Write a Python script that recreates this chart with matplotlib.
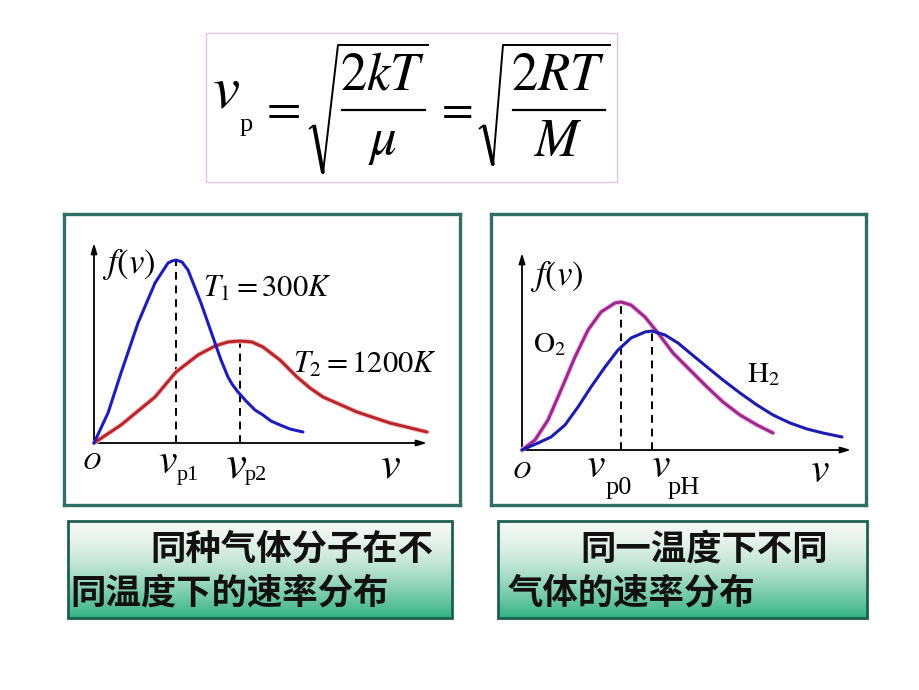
import matplotlib
matplotlib.use("Agg")
import matplotlib.pyplot as plt
import matplotlib.patheffects as pe
from matplotlib.patches import Rectangle
import numpy as np

plt.rcParams["mathtext.fontset"] = "stix"
plt.rcParams["font.family"] = ["Liberation Serif", "DejaVu Serif"]

# left panel: same gas at two temperatures (arbitrary units)
v_t1 = [0, 0.14, 0.27, 0.44, 0.61, 0.74, 0.78, 0.82, 0.88, 0.94, 1.07, 1.21, 1.27, 1.34,
        1.38, 1.44, 1.52, 1.61, 1.69, 1.77, 1.86, 1.96, 2.09]
f_t1 = [0, 0.30, 0.70, 1.20, 1.60, 1.80, 1.82, 1.83, 1.81, 1.73, 1.40, 1.00, 0.83, 0.66,
        0.59, 0.51, 0.42, 0.33, 0.28, 0.22, 0.18, 0.14, 0.11]
v_t2 = [0, 0.27, 0.61, 0.82, 1.04, 1.21, 1.34, 1.46, 1.58, 1.69, 1.86, 2.03, 2.16, 2.29,
        2.63, 2.96, 3.33]
f_t2 = [0, 0.18, 0.46, 0.71, 0.88, 0.97, 1.01, 1.02, 1.01, 0.96, 0.83, 0.66, 0.55, 0.46,
        0.31, 0.20, 0.11]

# right panel: O2 and H2 at one temperature
v_o2 = [0, 0.13, 0.26, 0.39, 0.53, 0.66, 0.79, 0.93, 0.99, 1.09, 1.23, 1.36, 1.51, 1.68,
        1.85, 2.01, 2.18, 2.35, 2.51]
f_o2 = [0, 0.10, 0.30, 0.60, 0.93, 1.20, 1.38, 1.47, 1.48, 1.45, 1.33, 1.17, 0.97, 0.80,
        0.63, 0.48, 0.35, 0.25, 0.17]
v_h2 = [0, 0.16, 0.29, 0.43, 0.56, 0.69, 0.83, 0.96, 1.09, 1.23, 1.30, 1.43, 1.56, 1.68,
        1.85, 2.01, 2.18, 2.35, 2.51, 2.68, 2.85, 3.01, 3.20]
f_h2 = [0, 0.07, 0.13, 0.25, 0.43, 0.63, 0.83, 1.00, 1.12, 1.18, 1.19, 1.15, 1.07, 0.97,
        0.83, 0.70, 0.57, 0.45, 0.35, 0.27, 0.21, 0.17, 0.13]

caption_left = ["同种气体分子在不", "同温度下的速率分布"]
caption_right = ["同一温度下不同", "气体的速率分布"]

W, H = 920, 690
teal = "#2f6f66"
fig = plt.figure(figsize=(9.2, 6.9), dpi=100)
fig.patch.set_facecolor("white")

# background axes in pixel units for the slide decorations
bg = fig.add_axes([0, 0, 1, 1])
bg.axis("off")

# formula box:  v_p = sqrt(2kT/mu) = sqrt(2RT/M)
bg.add_patch(Rectangle((206, 33), 411, 149, fill=False, ec="#e6c3e6", lw=1))
bg.text(212, 107, r"$v$", fontsize=44, va="baseline")
bg.text(240, 131, "p", fontsize=19, va="baseline")
bg.text(280, 110, r"$=$", fontsize=36, ha="center", va="center")
bg.text(454, 110, r"$=$", fontsize=33, ha="center", va="center")
for cx, num, den, (b0, b1) in [(383, r"$2kT$", r"$\mu$", (342, 425)),
                              (558, r"$2RT$", r"$M$", (513, 605))]:
    bg.text(cx, 77, num, fontsize=38, ha="center", va="center")
    bg.text(cx, 143, den, fontsize=38, ha="center", va="center")
    bg.plot([b0, b1], [110, 110], color="black", lw=1.6)
for (x0, xb, yb, xt, xe) in [(309, 323, 173, 338, 428), (479, 493, 165, 503, 610)]:
    bg.plot([x0, x0 + 5], [129, 125], color="black", lw=1.3, solid_capstyle="butt")
    bg.plot([x0 + 5, xb], [125, yb], color="black", lw=2.8, solid_capstyle="butt")
    bg.plot([xb, xt, xe], [yb, 45, 45], color="black", lw=1.4)

# caption boxes with gradient
grad = np.linspace(0, 1, 100) ** 1.6
top = np.array([0.96, 0.97, 0.96])
bot = np.array([0.20, 0.70, 0.52])
img = (top[None, :] * (1 - grad[:, None]) + bot[None, :] * grad[:, None])[:, None, :]
for (x0, x1), lines, xs in [((68, 452), caption_left, (150, 70)),
                            ((498, 867), caption_right, (580, 508))]:
    bg.imshow(img, extent=(x0, x1, 618, 521), aspect="auto", zorder=1)
    bg.add_patch(Rectangle((x0, 521), x1 - x0, 97, fill=False, ec="#1f5f4e", lw=2, zorder=2))
    for txt, x, y in zip(lines, xs, (549, 593)):
        bg.text(x, y, txt, fontsize=25.5, fontweight="bold", color="#111111",
                family=["Noto Sans CJK SC"], ha="left", va="center", zorder=3)
bg.set_xlim(0, W)
bg.set_ylim(H, 0)


def panel(box, origin):
    # box = (left, top, right, bottom) pixels, origin = pixel of (0,0); 100 px per unit
    l, t, r, b = box
    ax = fig.add_axes([l / W, 1 - b / H, (r - l) / W, (b - t) / H])
    ax.set_xlim((l - origin[0]) / 100, (r - origin[0]) / 100)
    ax.set_ylim((origin[1] - b) / 100, (origin[1] - t) / 100)
    ax.set_xticks([])
    ax.set_yticks([])
    for s in ax.spines.values():
        s.set_color(teal)
        s.set_linewidth(2.4)
    return ax


def axes_arrows(ax, xmax, ymax):
    kw = dict(arrowstyle="-|>,head_length=0.6,head_width=0.18", lw=1.3, color="black",
              shrinkA=0, shrinkB=0)
    ax.annotate("", xy=(xmax, 0), xytext=(0, 0), arrowprops=kw)
    ax.annotate("", xy=(0, ymax), xytext=(0, 0), arrowprops=kw)


def curve(ax, v, f, color, glow=None):
    effects = [pe.Stroke(linewidth=3.6, foreground=glow), pe.Normal()] if glow else None
    ax.plot(v, f, color=color, lw=2.2, solid_capstyle="round", solid_joinstyle="round",
            zorder=5, path_effects=effects)
    i = int(np.argmax(f))
    ax.plot([v[i], v[i]], [0, f[i]], color="black", lw=1.4, ls=(0, (4, 3)), zorder=4)


# ---- left panel
axL = panel((64, 214, 460, 505), (94, 443))
axes_arrows(axL, 3.33, 2.00)
curve(axL, v_t2, f_t2, "#b8262a", "#f8c6cc")
curve(axL, v_t1, f_t1, "#1c1cbf")
axL.text(0.08, 1.78, r"$f(v)$", fontsize=25, va="center")
axL.text(1.09, 1.46, r"$T_1=300K$", fontsize=22, va="baseline")
axL.text(1.99, 0.70, r"$T_2=1200K$", fontsize=22, va="baseline")
axL.text(-0.02, -0.20, r"$O$", fontsize=18, ha="center", va="center")
axL.text(0.64, -0.30, r"$v$", fontsize=30, va="baseline")
axL.text(0.83, -0.37, "p1", fontsize=16, va="baseline")
axL.text(1.31, -0.34, r"$v$", fontsize=34, va="baseline")
axL.text(1.51, -0.37, "p2", fontsize=16, va="baseline")
axL.text(2.86, -0.34, r"$v$", fontsize=32, va="baseline")

# ---- right panel
axR = panel((491, 214, 866, 505), (522, 450))
axes_arrows(axR, 3.29, 1.97)
curve(axR, v_o2, f_o2, "#9c2a8c", "#f6bcec")
curve(axR, v_h2, f_h2, "#1c1cb0")
axR.text(0.08, 1.73, r"$f(v)$", fontsize=25, va="center")
axR.text(0.11, 0.98, r"$\mathrm{O}_2$", fontsize=21, va="baseline")
axR.text(2.25, 0.68, r"$\mathrm{H}_2$", fontsize=21, va="baseline")
axR.text(0.0, -0.215, r"$O$", fontsize=18, ha="center", va="center")
axR.text(0.64, -0.27, r"$v$", fontsize=30, va="baseline")
axR.text(0.84, -0.44, "p0", fontsize=19, va="baseline")
axR.text(1.29, -0.27, r"$v$", fontsize=30, va="baseline")
axR.text(1.46, -0.44, "pH", fontsize=19, va="baseline")
axR.text(2.88, -0.32, r"$v$", fontsize=30, va="baseline")

fig.savefig("out.png", dpi=100)
